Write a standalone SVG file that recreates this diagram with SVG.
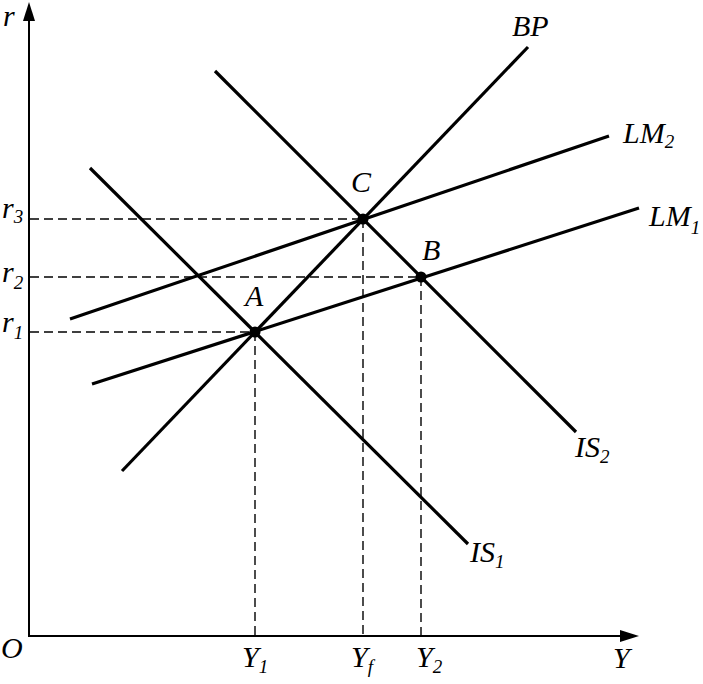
<svg xmlns="http://www.w3.org/2000/svg" width="703" height="684" viewBox="0 0 703 684">
<style>
.axis{stroke:#000;stroke-width:2;fill:none}
.curve{stroke:#000;stroke-width:3.2;fill:none;stroke-linecap:butt}
.dash{stroke:#000;stroke-width:1.4;fill:none;stroke-dasharray:9 5}
.lbl{font-family:"Liberation Serif","Times New Roman",serif;font-style:italic;font-size:30px;fill:#000}
.sub{font-size:19px}
.dot{fill:#000}
</style>
<rect width="703" height="684" fill="#fff"/>
<g id="axes">
<line class="axis" x1="29" y1="637" x2="29" y2="16"/>
<line class="axis" x1="28" y1="636" x2="622" y2="636"/>
<polygon points="29,2 23,21 35,21" fill="#000"/>
<polygon points="639,636 620,630 620,642" fill="#000"/>
<text class="lbl" x="3" y="26">r</text>
<text class="lbl" x="1" y="658">O</text>
<text class="lbl" x="613" y="668">Y</text>
</g>
<g id="connectors">
<line class="dash" x1="30" y1="219" x2="363" y2="219"/>
<line class="dash" x1="30" y1="277" x2="421" y2="277"/>
<line class="dash" x1="30" y1="332" x2="255" y2="332"/>
<line class="dash" x1="255" y1="332" x2="255" y2="635"/>
<line class="dash" x1="363" y1="219" x2="363" y2="635"/>
<line class="dash" x1="421" y1="277" x2="421" y2="635"/>
</g>
<g id="BP">
<line class="curve" x1="122" y1="471" x2="528" y2="47"/>
<text class="lbl" x="512" y="36">BP</text>
</g>
<g id="LM2">
<line class="curve" x1="70" y1="319" x2="609" y2="136"/>
<text class="lbl" x="623" y="143">LM<tspan class="sub" dy="5">2</tspan></text>
</g>
<g id="LM1">
<line class="curve" x1="92" y1="384" x2="639" y2="208"/>
<text class="lbl" x="649" y="226">LM<tspan class="sub" dy="8">1</tspan></text>
</g>
<g id="IS1">
<line class="curve" x1="90" y1="168" x2="468" y2="544"/>
<text class="lbl" x="470" y="562">IS<tspan class="sub" dy="6">1</tspan></text>
</g>
<g id="IS2">
<line class="curve" x1="215" y1="71" x2="576" y2="432"/>
<text class="lbl" x="575" y="457">IS<tspan class="sub" dy="6">2</tspan></text>
</g>
<g id="A">
<circle class="dot" cx="255" cy="332" r="5.5"/>
<text class="lbl" x="245" y="306">A</text>
</g>
<g id="B">
<circle class="dot" cx="421" cy="277" r="5.5"/>
<text class="lbl" x="422" y="260">B</text>
</g>
<g id="C">
<circle class="dot" cx="363" cy="219" r="5.5"/>
<text class="lbl" x="351" y="192">C</text>
</g>
<g id="r-labels">
<text class="lbl" x="2" y="218">r<tspan class="sub" dy="5">3</tspan></text>
<text class="lbl" x="2" y="282">r<tspan class="sub" dy="7">2</tspan></text>
<text class="lbl" x="2" y="332">r<tspan class="sub" dy="7">1</tspan></text>
</g>
<g id="Y-labels">
<text class="lbl" x="242" y="667">Y<tspan class="sub" dy="6">1</tspan></text>
<text class="lbl" x="351" y="667">Y<tspan class="sub" dy="6">f</tspan></text>
<text class="lbl" x="416" y="667">Y<tspan class="sub" dy="6">2</tspan></text>
</g>
</svg>
